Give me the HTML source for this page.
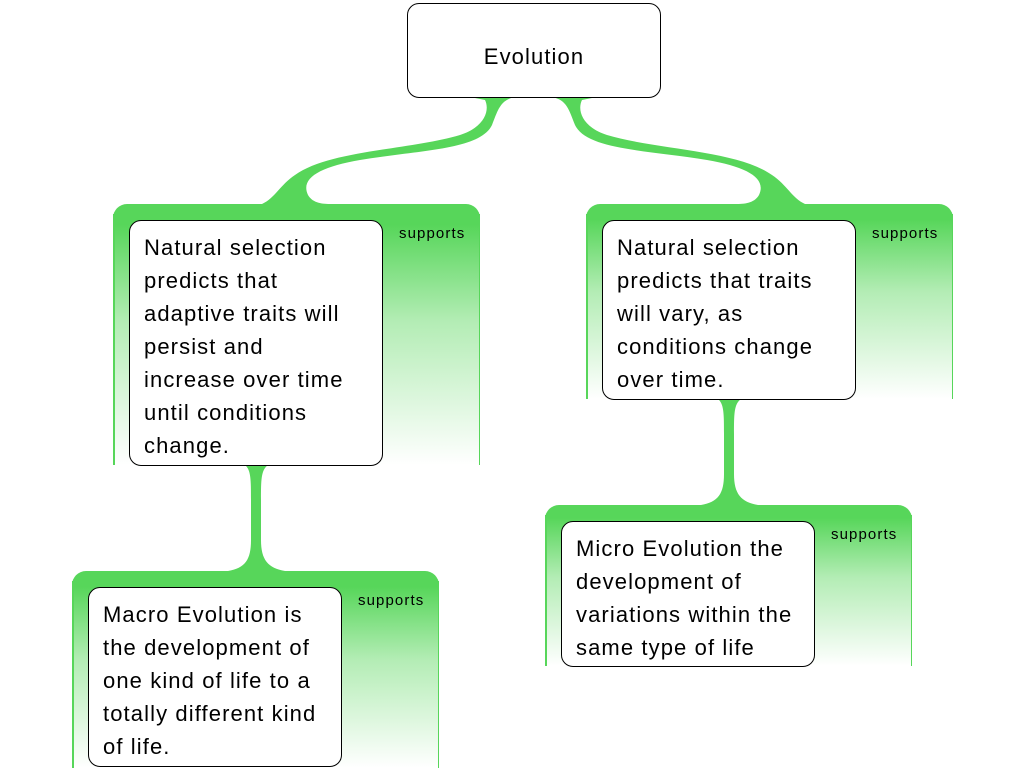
<!DOCTYPE html>
<html><head><style>
body{margin:0;width:1024px;height:768px;background:#fff;position:relative;overflow:hidden;font-family:"Liberation Sans",sans-serif}
.p{position:absolute;border-radius:14px 14px 0 0;background:linear-gradient(#57d65a 0%,#57d65a 8%,rgba(87,214,90,0.45) 45%,#fff 100%);}
.p::before,.p::after{content:"";position:absolute;top:10px;bottom:0;width:1.5px;background:#57d65a}
.p::before{left:0}.p::after{right:0}
.n{position:absolute;background:#fff;border:1.3px solid #000;border-radius:12px;box-sizing:border-box;padding:10px 14px;font-size:22px;line-height:33px;color:#000;letter-spacing:1.1px;white-space:nowrap}
.s{position:absolute;font-size:15px;letter-spacing:1.1px;color:#000}
</style></head><body>
<svg width="1024" height="768" style="position:absolute;left:0;top:0">
<path fill="#57d65a" d="M470,97 L515,97 C500,100 498,110 492,125 C480,150 420,150 360,160 C320,167 300,178 308,195 C312,202 320,204 330,204 L262,204 C275,198 280,185 295,175 C330,150 410,150 460,135 C485,127 490,110 485,100 Z"/>
<path fill="#57d65a" d="M597,97 L552,97 C567,100 569,110 575,125 C587,150 647,150 707,160 C747,167 767,178 759,195 C755,202 747,204 737,204 L805,204 C792,198 787,185 772,175 C737,150 657,150 607,135 C582,127 577,110 582,100 Z"/>
<path fill="#57d65a" d="M245,465 L268,465 C261,470 261,480 261,500 L261,540 C261,560 268,568 285,571 L228,571 C245,568 251,560 251,540 L251,500 C251,480 251,470 245,465 Z"/>
<path fill="#57d65a" d="M718,399 L741,399 C734,404 734,414 734,434 L734,474 C734,494 741,502 758,505 L701,505 C718,502 724,494 724,474 L724,434 C724,414 724,404 718,399 Z"/>
</svg>
<div class="p" style="left:113px;top:204px;width:367px;height:261px"></div>
<div class="p" style="left:586px;top:204px;width:367px;height:195px"></div>
<div class="p" style="left:545px;top:505px;width:367px;height:161px"></div>
<div class="p" style="left:72px;top:571px;width:367px;height:197px"></div>
<div class="s" style="left:399px;top:225px">supports</div>
<div class="s" style="left:872px;top:225px">supports</div>
<div class="s" style="left:831px;top:526px">supports</div>
<div class="s" style="left:358px;top:592px">supports</div>
<div class="n" style="left:407px;top:3px;width:254px;height:95px;text-align:center;padding:40px 0 0;line-height:26px">Evolution</div>
<div class="n" style="left:129px;top:220px;width:254px;height:246px">Natural selection<br>predicts that<br>adaptive traits will<br>persist and<br>increase over time<br>until conditions<br>change.</div>
<div class="n" style="left:602px;top:220px;width:254px;height:180px">Natural selection<br>predicts that traits<br>will vary, as<br>conditions change<br>over time.</div>
<div class="n" style="left:561px;top:521px;width:254px;height:146px">Micro Evolution the<br>development of<br>variations within the<br>same type of life</div>
<div class="n" style="left:88px;top:587px;width:254px;height:180px">Macro Evolution is<br>the development of<br>one kind of life to a<br>totally different kind<br>of life.</div>
</body></html>
